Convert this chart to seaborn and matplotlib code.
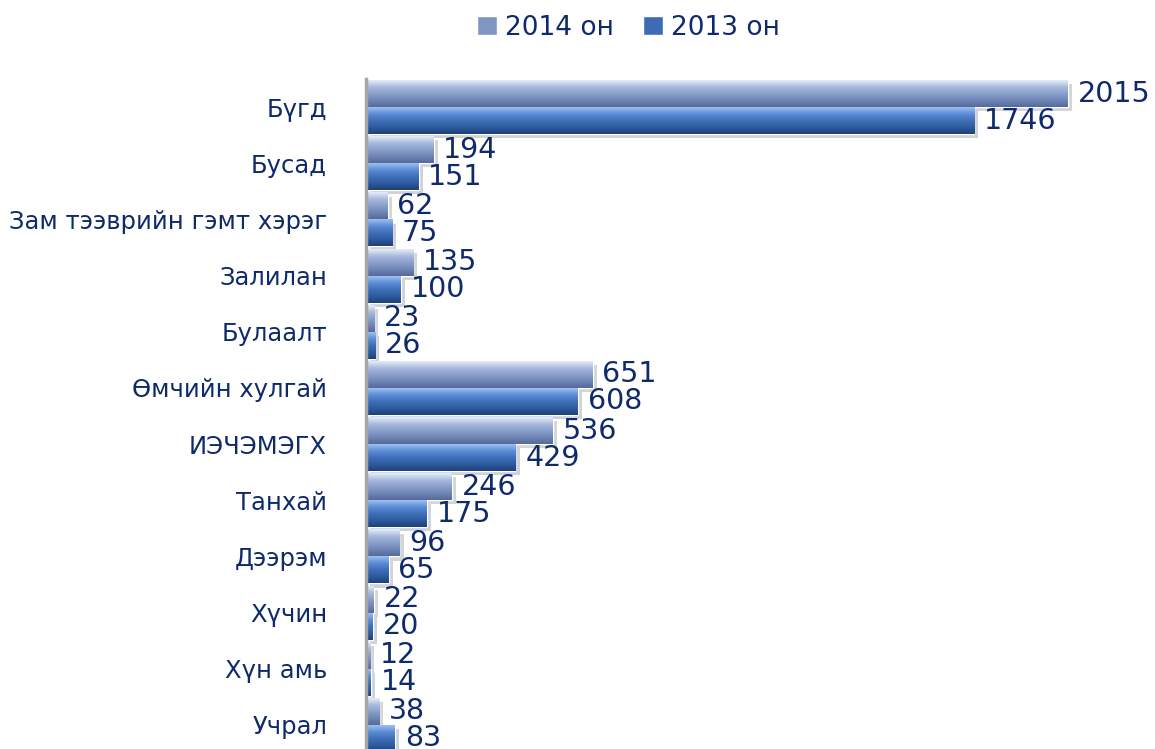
import numpy as np
import pandas as pd
import seaborn as sns
import matplotlib.pyplot as plt
import matplotlib.patheffects as pe
from matplotlib.colors import LinearSegmentedColormap

# Chart data
categories = ["Бүгд", "Бусад", "Зам тээврийн гэмт хэрэг", "Залилан", "Булаалт",
              "Өмчийн хулгай", "ИЭЧЭМЭГХ", "Танхай", "Дээрэм", "Хүчин",
              "Хүн амь", "Учрал"]
vals_2014 = [2015, 194, 62, 135, 23, 651, 536, 246, 96, 22, 12, 38]
vals_2013 = [1746, 151, 75, 100, 26, 608, 429, 175, 65, 20, 14, 83]
series = ["2014 он", "2013 он"]

df = pd.DataFrame({
    "cat": categories * 2,
    "val": vals_2014 + vals_2013,
    "year": [series[0]] * len(categories) + [series[1]] * len(categories),
})

text_col = "#0f2a6b"
base_cols = {"2014 он": "#7f95c2", "2013 он": "#3d6cb5"}
grads = {
    "2014 он": ["#e4ecf8", "#a9bbdd", "#8aa0cb", "#6f86b6", "#56699a"],
    "2013 он": ["#9cc0f0", "#5b8dd6", "#3f6fb8", "#2f5ca0", "#1f3f78"],
}

sns.set_style("white")
plt.rcParams["font.family"] = ["DejaVu Sans"]

fig = plt.figure(figsize=(11.55, 7.49), dpi=100)
ax = fig.add_axes([366 / 1155, -4 / 749, (1155 - 366) / 1155, (753 - 79) / 749])

sns.barplot(data=df, y="cat", x="val", hue="year", orient="h", ax=ax,
            palette=base_cols, width=0.96, saturation=1, legend=True)

ax.set_xlim(0, 2265)
ylim = ax.get_ylim()

# gradient fill + soft shadow on each bar
for cont, name in zip(ax.containers, series):
    cmap = LinearSegmentedColormap.from_list(name, grads[name])
    grad = np.linspace(0, 1, 64).reshape(-1, 1)
    for p, v in zip(cont.patches, cont.datavalues):
        p.set_path_effects([pe.SimplePatchShadow(offset=(3, -3), alpha=0.2),
                            pe.Normal()])
        x0, y0 = p.get_x(), p.get_y()
        w, h = p.get_width(), p.get_height()
        im = ax.imshow(grad, extent=(x0, x0 + w, y0 + h, y0), origin="upper",
                       aspect="auto", cmap=cmap, zorder=p.get_zorder() + 0.1)
        im.set_clip_path(p)
    ax.bar_label(cont, labels=[str(int(v)) for v in cont.datavalues],
                 padding=7, fontsize=20.5, color=text_col)

ax.set_ylim(ylim)
ax.set_xlabel("")
ax.set_ylabel("")
ax.set_xticks([])
ax.tick_params(axis="y", length=0, pad=28, labelsize=17.5, labelcolor=text_col)
for s in ["top", "right", "bottom"]:
    ax.spines[s].set_visible(False)
ax.spines["left"].set_color("#a6a6a6")
ax.spines["left"].set_linewidth(2.5)

handles, labels = ax.get_legend_handles_labels()
ax.get_legend().remove()
fig.legend(handles, labels, loc="center", bbox_to_anchor=(0.544, 0.963), ncol=2,
           frameon=False, fontsize=19, labelcolor=text_col, handlelength=0.75,
           handleheight=0.75, handletextpad=0.3, columnspacing=1.1)

fig.savefig("out.png", dpi=100)
